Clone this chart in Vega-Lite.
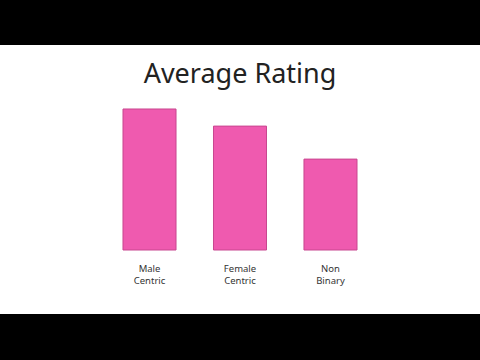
{
  "$schema": "https://vega.github.io/schema/vega-lite/v6.json",
  "width": 480,
  "height": 269,
  "autosize": "none",
  "padding": {"top": 45, "bottom": 46, "left": 0, "right": 0},
  "background": "#000000",
  "view": {"fill": "#ffffff", "stroke": null},
  "title": {
    "text": "Average Rating",
    "font": "Noto Sans",
    "fontSize": 27,
    "fontWeight": "normal",
    "color": "#222222",
    "anchor": "middle",
    "baseline": "alphabetic",
    "offset": -65
  },
  "data": {
    "values": [
      {"category": "Male Centric", "rating": 4.7},
      {"category": "Female Centric", "rating": 4.13},
      {"category": "Non Binary", "rating": 3.03}
    ]
  },
  "mark": {"type": "bar", "color": "#EF5AAF", "stroke": "#C8478F", "strokeWidth": 1},
  "encoding": {
    "x": {
      "field": "category",
      "type": "nominal",
      "sort": null,
      "scale": {"range": [123, 357], "paddingInner": 0.414, "paddingOuter": 0},
      "axis": {
        "title": null,
        "domain": false,
        "ticks": false,
        "labelAngle": 0,
        "labelExpr": "split(datum.label, ' ')",
        "labelFont": "Noto Sans",
        "labelFontSize": 9.5,
        "labelLineHeight": 12,
        "labelColor": "#333333",
        "labelPadding": 13,
        "offset": -64
      }
    },
    "y": {
      "field": "rating",
      "type": "quantitative",
      "scale": {"domain": [-2.133, 6.833], "nice": false, "zero": false},
      "axis": null
    }
  }
}
